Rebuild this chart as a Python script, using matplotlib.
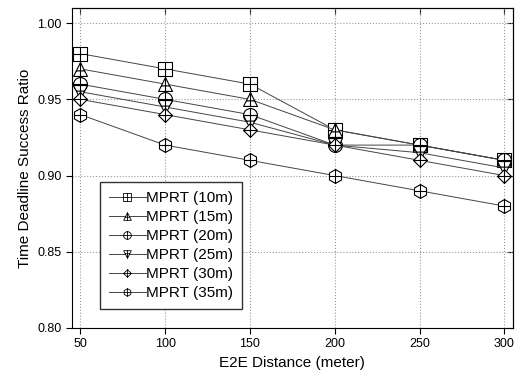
"""Time deadline success ratio vs. E2E distance for MPRT at several ranges."""

import matplotlib

matplotlib.use("Agg")
import matplotlib.pyplot as plt
from matplotlib.path import Path

distances = [50, 100, 150, 200, 250, 300]

mprt_10m = [0.98, 0.97, 0.96, 0.93, 0.92, 0.91]
mprt_15m = [0.97, 0.96, 0.95, 0.93, 0.92, 0.91]
mprt_20m = [0.96, 0.95, 0.94, 0.92, 0.92, 0.91]
mprt_25m = [0.955, 0.945, 0.935, 0.92, 0.915, 0.905]
mprt_30m = [0.95, 0.94, 0.93, 0.92, 0.91, 0.90]
mprt_35m = [0.94, 0.92, 0.91, 0.90, 0.89, 0.88]

series_labels = ["MPRT (10m)", "MPRT (15m)", "MPRT (20m)",
                 "MPRT (25m)", "MPRT (30m)", "MPRT (35m)"]
xticks = [50, 100, 150, 200, 250, 300]
yticks = [0.80, 0.85, 0.90, 0.95, 1.00]


def crossed(outline, h_y=0.0, h_half=1.0, v_top=1.0, v_bot=-1.0):
    """Outline path with a plus drawn inside it."""
    verts = list(outline) + [(0, 0)]
    codes = [Path.MOVETO] + [Path.LINETO] * (len(outline) - 1) + [Path.CLOSEPOLY]
    verts += [(-h_half, h_y), (h_half, h_y), (0, v_bot), (0, v_top)]
    codes += [Path.MOVETO, Path.LINETO, Path.MOVETO, Path.LINETO]
    return Path(verts, codes)


def crossed_circle():
    circ = Path.unit_circle()
    cross = Path([(-1, 0), (1, 0), (0, -1), (0, 1)],
                 [Path.MOVETO, Path.LINETO, Path.MOVETO, Path.LINETO])
    return Path.make_compound_path(circ, cross)


hexagon = Path.unit_regular_polygon(6).vertices[:-1]

markers = [
    crossed([(-1, -1), (1, -1), (1, 1), (-1, 1)]),
    crossed([(0, 1), (-1, -1), (1, -1)], h_y=-0.2, h_half=0.6),
    crossed_circle(),
    crossed([(0, -1), (-1, 1), (1, 1)], h_y=0.2, h_half=0.6),
    crossed([(0, 1), (1, 0), (0, -1), (-1, 0)]),
    crossed(hexagon, h_half=0.866),
]

plt.rcParams["font.family"] = ["Liberation Sans", "DejaVu Sans"]

fig = plt.figure(figsize=(5.17, 3.77), dpi=100)
ax = fig.add_axes([0.139, 0.130, 0.853, 0.849])

all_series = [mprt_10m, mprt_15m, mprt_20m, mprt_25m, mprt_30m, mprt_35m]
for values, label, marker in zip(all_series, series_labels, markers):
    ax.plot(distances, values, color="#444444", linewidth=0.7,
            marker=marker, markersize=10, markerfacecolor="white",
            markeredgecolor="black", markeredgewidth=0.8, label=label)

ax.set_xlim(45, 305)
ax.set_ylim(0.80, 1.01)
ax.set_xticks(xticks)
ax.set_yticks(yticks)
ax.set_yticklabels([f"{v:.2f}" for v in yticks])
ax.tick_params(direction="out", length=4, width=0.8, labelsize=9)
ax.grid(True, linestyle=":", color="#999999", linewidth=0.8)

# top/right ticks point inward, unlabeled
top = ax.secondary_xaxis("top")
top.set_xticks(xticks)
top.tick_params(direction="in", length=4, width=0.8, labeltop=False)
right = ax.secondary_yaxis("right")
right.set_yticks(yticks)
right.tick_params(direction="in", length=4, width=0.8, labelright=False)

ax.set_xlabel("E2E Distance (meter)", fontsize=11)
ax.set_ylabel("Time Deadline Success Ratio", fontsize=11)

leg = ax.legend(loc="lower left", bbox_to_anchor=(0.0635, 0.059),
                borderaxespad=0, fontsize=11, markerscale=0.55,
                handlelength=2.4, handletextpad=0.0, labelspacing=0.32,
                borderpad=0.6, fancybox=False, framealpha=1,
                edgecolor="#333333")
leg.get_frame().set_linewidth(1.0)
for handle in leg.legend_handles:
    handle.set_markeredgewidth(0.6)

fig.savefig("out.png", dpi=100)
